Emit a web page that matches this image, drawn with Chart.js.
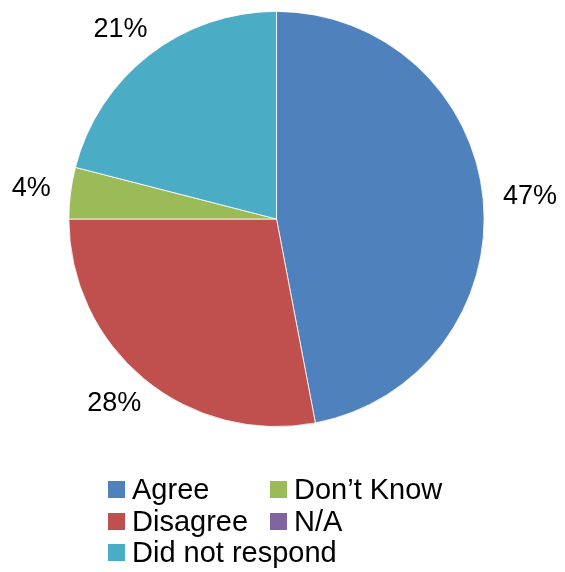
<!DOCTYPE html>
<html>
<head>
<meta charset="utf-8">
<script src="https://cdn.jsdelivr.net/npm/chart.js@4"></script>
<style>
  html, body { margin: 0; padding: 0; background: #fff; }
  #wrap { position: relative; width: 565px; height: 572px; }
  #legend {
    position: absolute; left: 108px; top: 474px;
    display: grid; grid-template-columns: 162px auto; grid-auto-rows: 31.5px;
    font-family: "Liberation Sans", Arial, sans-serif; font-size: 29px; color: #000;
  }
  .item { display: flex; align-items: center; white-space: nowrap; }
  .box { width: 17px; height: 17px; margin-right: 7px; flex: none; }
</style>
</head>
<body>
<div id="wrap">
  <canvas id="chart-pie" width="565" height="572"></canvas>
  <div id="legend"></div>
</div>
<script>
// datos del gráfico
const labels = ['Agree', 'Disagree', 'Don\u2019t Know', 'N/A', 'Did not respond'];
const valores = [47, 28, 4, 0, 21];
const colores = ['#4F81BD', '#C0504D', '#9BBB59', '#8064A2', '#4BACC6'];
// posición en la leyenda [fila, columna]
const legendSlots = [[1, 1], [2, 1], [1, 2], [2, 2], [3, 1]];

// etiquetas de porcentaje fuera del pastel
const outsideLabels = {
    id: 'outsideLabels',
    afterDatasetsDraw(chart) {
        const { ctx } = chart;
        const meta = chart.getDatasetMeta(0);
        ctx.save();
        ctx.font = '27px "Liberation Sans", Arial, sans-serif';
        ctx.fillStyle = '#000';
        ctx.textAlign = 'center';
        ctx.textBaseline = 'middle';
        meta.data.forEach((arc, i) => {
            if (!valores[i]) return;
            const mid = (arc.startAngle + arc.endAngle) / 2;
            const cos = Math.cos(mid), sin = Math.sin(mid);
            const text = valores[i] + '%';
            const w = ctx.measureText(text).width;
            const h = 24;
            const px = arc.x + (arc.outerRadius + 20) * cos;
            const py = arc.y + (arc.outerRadius + 20) * sin;
            ctx.fillText(text, px + cos * w / 2, py + sin * h / 2);
        });
        ctx.restore();
    }
};

const ctx = document.getElementById('chart-pie').getContext('2d');
const chart = new Chart(ctx, {
    type: 'pie',
    data: {
        labels,
        datasets: [{ data: valores, backgroundColor: colores, borderColor: '#fff', borderWidth: 0.8 }]
    },
    options: {
        responsive: false,
        animation: false,
        layout: { padding: { left: 68.5, right: 80.5, top: 11, bottom: 145 } },
        plugins: { legend: { display: false }, tooltip: { enabled: false } }
    },
    plugins: [outsideLabels]
});

// leyenda HTML
const legend = document.getElementById('legend');
labels.forEach((label, i) => {
    const item = document.createElement('div');
    item.className = 'item';
    item.style.gridRow = legendSlots[i][0];
    item.style.gridColumn = legendSlots[i][1];
    item.innerHTML = `<span class="box" style="background:${colores[i]}"></span><span>${label}</span>`;
    legend.appendChild(item);
});
</script>
</body>
</html>
